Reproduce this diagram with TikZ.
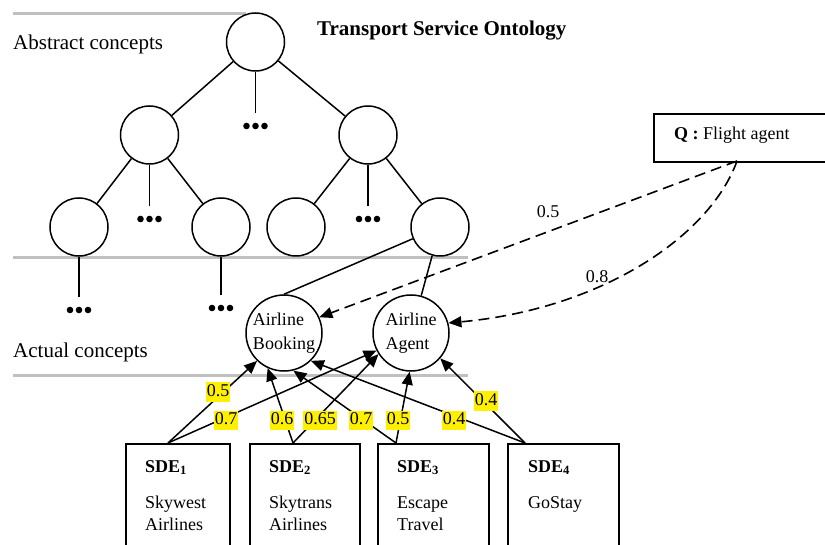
\documentclass[tikz,border=0pt]{standalone}
\usepackage{fontspec}
\setmainfont{Liberation Serif}
\usetikzlibrary{arrows.meta}
\definecolor{bandgray}{RGB}{192,192,192}
\definecolor{hilite}{RGB}{255,240,0}
\begin{document}
\begin{tikzpicture}[x=1pt,y=-1pt,
  every node/.style={font=\fontsize{18}{22}\selectfont},
  band/.style={draw=bandgray,line width=3pt},
  conc/.style={circle,draw,line width=1.5pt,minimum size=58pt,inner sep=0pt},
  leaf/.style={circle,draw,line width=1.5pt,minimum size=76pt,inner sep=0pt,align=left,
    font=\fontsize{18}{24}\selectfont},
  edge/.style={line width=1.5pt},
  ell/.style={minimum width=26pt,minimum height=7pt,inner sep=0pt,
    path picture={
      \fill ([xshift=-9pt]path picture bounding box.center) circle (3.3pt);
      \fill (path picture bounding box.center) circle (3.3pt);
      \fill ([xshift=9pt]path picture bounding box.center) circle (3.3pt);}},
  todots/.style={edge,shorten >=9.5pt},
  arr/.style={line width=1.5pt,-{Triangle[length=13pt,width=11pt]}},
  darr/.style={line width=1.6pt,dash pattern=on 11pt off 6pt,-{Triangle[length=13pt,width=11pt]}},
  sdebox/.style={draw,line width=2.4pt,anchor=north west,minimum height=130pt,inner sep=0pt},
  txt/.style={anchor=base west,inner sep=0pt,align=left},
  wt/.style={fill=hilite,inner xsep=1pt,inner ysep=1.5pt,text height=12.5pt,text depth=3.5pt},
]
\useasboundingbox (0,0) rectangle (825,545);

% layer separators
\draw[band] (13,14) -- (246,14);
\draw[band] (13,258) -- (468,258);
\draw[band] (13,376) -- (468,376);

% headings
\node[txt,font=\fontsize{21}{25}\selectfont] (abs) at (13,50) {Abstract concepts};
\node[txt,font=\fontsize{21}{25}\selectfont] (act) at (13,358) {Actual concepts};
\node[txt,font=\fontsize{21}{25}\selectfont\bfseries] (title) at (317,36) {Transport Service Ontology};

% ontology tree
\node[conc] (root) at (255.5,42) {};
\node[conc] (l2a) at (149.5,135) {};
\node[conc] (l2b) at (368,135) {};
\node[conc] (l3a) at (79,227) {};
\node[conc] (l3b) at (221,227) {};
\node[conc] (l3c) at (296,227) {};
\node[conc] (l3d) at (440,227) {};
\node[ell] (d0) at (255.5,126) {};
\node[ell] (d1) at (149.5,219) {};
\node[ell] (d2) at (368,219) {};
\node[ell] (d3) at (79,310) {};
\node[ell] (d4) at (221,308) {};

\draw[edge] (root) -- (l2a);
\draw[edge] (root) -- (l2b);
\draw[todots] (root) -- (d0.north);
\draw[edge] (l2a) -- (l3a);
\draw[edge] (l2a) -- (l3b);
\draw[todots] (l2a) -- (d1.north);
\draw[edge] (l2b) -- (l3c);
\draw[edge] (l2b) -- (l3d);
\draw[todots] (l2b) -- (d2.north);
\draw[todots] (l3a) -- (d3.north);
\draw[todots] (l3b) -- (d4.north);

% actual concepts
\node[leaf] (booking) at (284,333) {Airline\\Booking};
\node[leaf] (agent) at (411,333) {Airline\\Agent};
\draw[edge] (l3d) -- (booking.north);
\draw[edge] (l3d) -- (agent);

% query
\node[draw,line width=1.6pt,anchor=north west,minimum width=180pt,minimum height=48pt,inner sep=0pt] (q) at (653,113) {};
\node[txt] (qt) at (674,140) {\textbf{Q :} Flight agent};
\coordinate (qs) at (737,161);
\draw[darr] (qs) -- (booking.24);
\draw[darr] (qs) .. controls (710,236) and (602,309) .. (agent.15);
\node (w05) at (548,212) {0.5};
\node (w08) at (597,277) {0.8};

% service description entries (the base of a multi-line text is its last line)
\node[sdebox,minimum width=104pt] (s1) at (125,443) {};
\node[sdebox,minimum width=110pt] (s2) at (249,443) {};
\node[sdebox,minimum width=111pt] (s3) at (377,443) {};
\node[sdebox,minimum width=111pt] (s4) at (507,443) {};
\node[txt] (t1) at (145,530) {\textbf{SDE\textsubscript{1}}\\[14pt]Skywest\\Airlines};
\node[txt] (t2) at (269,530) {\textbf{SDE\textsubscript{2}}\\[14pt]Skytrans\\Airlines};
\node[txt] (t3) at (397,530) {\textbf{SDE\textsubscript{3}}\\[14pt]Escape\\Travel};
\node[txt] (t4) at (528,508) {\textbf{SDE\textsubscript{4}}\\[14pt]GoStay};

\coordinate (p1) at (168,443);
\coordinate (p2) at (293,443);
\coordinate (p3) at (396,443);
\coordinate (p4) at (525,443);

\draw[arr] (p1) -- (booking.226);
\draw[arr] (p1) -- (agent.207);
\draw[arr] (p2) -- (booking.245);
\draw[arr] (p2) -- (agent.213);
\draw[arr] (p3) -- (booking.284);
\draw[arr] (p3) -- (agent.268);
\draw[arr] (p4) -- (booking.314);
\draw[arr] (p4) -- (agent.319);

% similarity weights
\node[wt] (a1) at (218,392) {0.5};
\node[wt] (a2) at (226,420) {0.7};
\node[wt] (a3) at (282,420) {0.6};
\node[wt] (a4) at (320,420) {0.65};
\node[wt] (a5) at (361,420) {0.7};
\node[wt] (a6) at (398,420) {0.5};
\node[wt] (a7) at (454,420) {0.4};
\node[wt] (a8) at (486,401) {0.4};
\end{tikzpicture}
\end{document}
